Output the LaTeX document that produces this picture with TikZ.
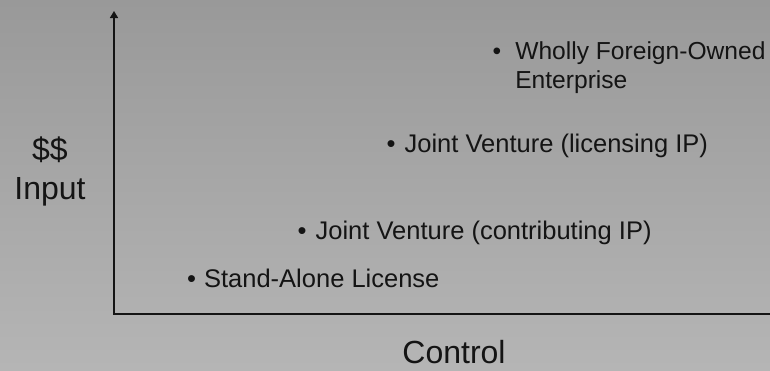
\documentclass[tikz,border=0pt]{standalone}
\usepackage{fontspec}
\setmainfont{Liberation Sans}
\usetikzlibrary{arrows.meta}

\definecolor{bgtop}{gray}{0.60}
\definecolor{bgbottom}{gray}{0.71}
\definecolor{ink}{gray}{0.08}

\tikzset{
  axis/.style={ink, line width=1.5pt},
  axislabel/.style={ink, inner sep=0pt, font=\fontsize{32}{38}\selectfont},
  entry/.style={ink, inner sep=0pt, anchor=base west, font=\fontsize{25.5}{29}\selectfont},
}

\begin{document}
\begin{tikzpicture}[x=1pt, y=-1pt]
    % fondo
    \shade[top color=bgtop, bottom color=bgbottom] (0,0) rectangle (770,370);
    \useasboundingbox (0,0) rectangle (770,370);

    % ejes
    \coordinate (origin) at (114,314);
    \coordinate (ytip) at (114,11);
    \coordinate (xend) at (770,314);
    \draw[axis, -{Triangle[width=8pt, length=7pt]}] (xend) -- (origin) -- (ytip);

    % etiquetas de los ejes
    \node[axislabel, anchor=base] (dollars) at (50,160) {\$\$};
    \node[axislabel, anchor=base] (input) at (50,199) {Input};
    \node[axislabel, anchor=base] (control) at (454,363) {Control};

    % modos de entrada
    \node[entry] (license) at (187,287) {\textbullet\hspace{8pt}Stand-Alone License};
    \node[entry] (jvcontrib) at (297.5,239) {\textbullet\hspace{9pt}Joint Venture (contributing IP)};
    \node[entry] (jvlicense) at (386.5,152) {\textbullet\hspace{9pt}Joint Venture (licensing IP)};
    \node[entry, font=\fontsize{24.6}{29}\selectfont] (wfoe) at (492.5,59)
      {\textbullet\hspace{14pt}\begin{tabular}[t]{@{}l@{}}Wholly Foreign-Owned\\Enterprise\end{tabular}};
\end{tikzpicture}
\end{document}
